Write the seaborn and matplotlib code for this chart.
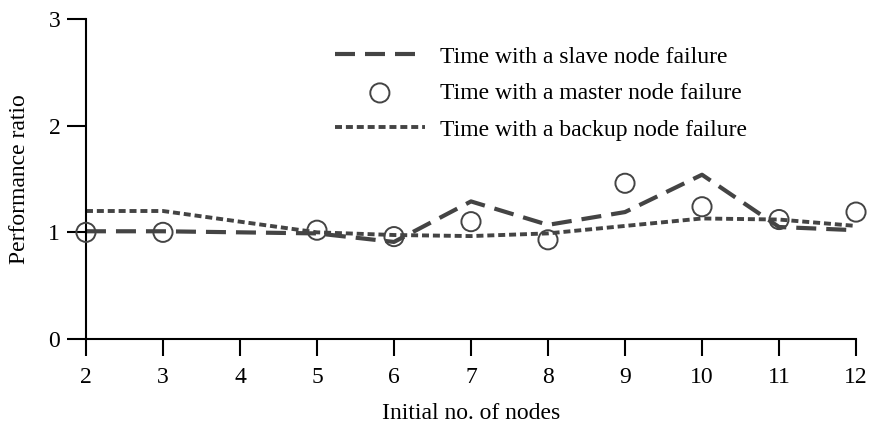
import numpy as np
import pandas as pd
import matplotlib
matplotlib.use("Agg")
import matplotlib.pyplot as plt
import seaborn as sns

categories = ["2", "3", "4", "5", "6", "7", "8", "9", "10", "11", "12"]
nodes = [2, 3, 5, 6, 7, 8, 9, 10, 11, 12]
slave = [1.01, 1.01, 0.99, 0.91, 1.29, 1.07, 1.19, 1.54, 1.05, 1.02]
master = [1.0, 1.0, 1.02, 0.96, 1.10, 0.93, 1.46, 1.24, 1.12, 1.19]
backup = [1.20, 1.20, 1.0, 0.975, 0.965, 0.99, 1.06, 1.13, 1.12, 1.06]

sns.set_style("ticks")
plt.rcParams["font.family"] = ["Liberation Serif", "DejaVu Serif"]
plt.rcParams["text.color"] = "black"
plt.rcParams["axes.labelcolor"] = "black"

# position of each node count on the categorical axis
pos = [categories.index(str(n)) for n in nodes]
df = pd.DataFrame({"pos": pos, "slave": slave, "master": master, "backup": backup})

fig = plt.figure(figsize=(8.71, 4.26), dpi=100)
ax = fig.add_axes([0.0987, 0.2042, 0.8841, 0.7512])
col = "#444444"

sns.lineplot(data=df, x="pos", y="slave", ax=ax, color=col, linewidth=3,
             dashes=False, label="Time with a slave node failure")
ax.lines[-1].set_dashes((4.8, 2.4))
sns.scatterplot(data=df, x="pos", y="master", ax=ax, marker="o", s=190,
                facecolor="none", edgecolor=col, linewidth=1.4,
                label="Time with a master node failure", zorder=3, clip_on=False)
sns.lineplot(data=df, x="pos", y="backup", ax=ax, color=col, linewidth=2.8,
             label="Time with a backup node failure")
ax.lines[-1].set_dashes((1.8, 1.0))

ax.set_xlim(0, len(categories) - 1)
ax.set_ylim(0, 3)
ax.set_xticks(range(len(categories)))
ax.set_xticklabels(categories)
ax.set_yticks([0, 1, 2, 3])
ax.tick_params(axis="both", width=1.5, labelsize=17, colors="black")
ax.tick_params(axis="x", length=12, pad=8)
ax.tick_params(axis="y", length=13.5, pad=5)
for s in ["left", "bottom"]:
    ax.spines[s].set_linewidth(1.5)
    ax.spines[s].set_color("black")
sns.despine(ax=ax)

ax.set_xlabel("Initial no. of nodes", fontsize=17, labelpad=11)
ax.set_ylabel("Performance ratio", fontsize=17, labelpad=13)

ax.legend(loc="upper left", bbox_to_anchor=(0.3234, 0.915), frameon=False, fontsize=17,
          handlelength=3.8, handletextpad=0.64, labelspacing=0.63,
          borderpad=0, borderaxespad=0)

fig.savefig("out.png", dpi=100)
